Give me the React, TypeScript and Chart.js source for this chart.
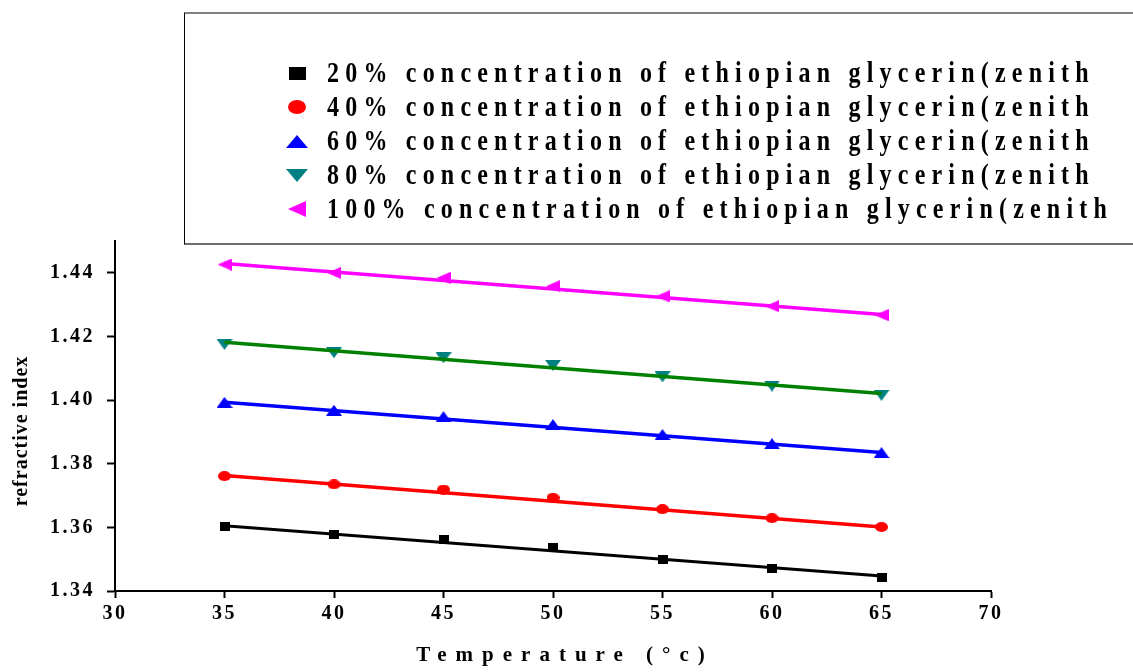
import React, { useEffect, useMemo, useRef } from 'react';
import { Chart, registerables } from 'chart.js';

Chart.register(...registerables);

// ---------- data ----------
const temperatures = [35, 40, 45, 50, 55, 60, 65];

const ri20 = [1.3604, 1.3578, 1.3562, 1.3536, 1.35, 1.3471, 1.3444];
const ri40 = [1.3761, 1.3735, 1.3719, 1.3693, 1.3657, 1.3629, 1.3601];
const ri60 = [1.3993, 1.3968, 1.3948, 1.3923, 1.3892, 1.3863, 1.3835];
const ri80 = [1.4175, 1.4149, 1.4133, 1.4109, 1.4073, 1.4044, 1.4015];
const ri100 = [1.4426, 1.44, 1.4384, 1.4358, 1.4326, 1.4295, 1.4267];

// straight fitted lines, end points read at 35 and 65 °c
const fitTemps = [35, 65];
const fit20 = [1.3605, 1.3447];
const fit40 = [1.3763, 1.3601];
const fit60 = [1.3993, 1.3835];
const fit80 = [1.4182, 1.4021];
const fit100 = [1.4429, 1.4269];

const xTickValues = [30, 35, 40, 45, 50, 55, 60, 65, 70];
const yTickValues = [1.34, 1.36, 1.38, 1.4, 1.42, 1.44];

const seriesLabels = [
  '20% concentration of ethiopian glycerin(zenith',
  '40% concentration of ethiopian glycerin(zenith',
  '60% concentration of ethiopian glycerin(zenith',
  '80% concentration of ethiopian glycerin(zenith',
  '100% concentration of ethiopian glycerin(zenith',
];
const seriesValues = [ri20, ri40, ri60, ri80, ri100];
const fitValues = [fit20, fit40, fit60, fit80, fit100];

const markerColors = ['#000000', '#FF0000', '#0000FF', '#008080', '#FF00FF'];
const lineColors = ['#000000', '#FF0000', '#0000FF', '#008000', '#FF00FF'];
const markerShapes = ['square', 'circle', 'up', 'down', 'left'];
const lineWidths = [3, 3.5, 3.5, 3.5, 3.5];

const plotMarkerSizes: [number, number][] = [[10, 9], [13, 10], [16, 11], [16, 11], [14, 12]];
const legendMarkerSizes: [number, number][] = [[17, 13], [18, 14], [22, 13], [22, 13], [18, 16]];

const FONT = "'Liberation Serif', 'Times New Roman', serif";

function makeMarker(shape: string, color: string, w: number, h: number): HTMLCanvasElement {
  const c = document.createElement('canvas');
  c.width = w;
  c.height = h;
  const g = c.getContext('2d')!;
  g.fillStyle = color;
  g.beginPath();
  if (shape === 'square') {
    g.rect(0, 0, w, h);
  } else if (shape === 'circle') {
    g.ellipse(w / 2, h / 2, w / 2, h / 2, 0, 0, Math.PI * 2);
  } else if (shape === 'up') {
    g.moveTo(w / 2, 0);
    g.lineTo(w, h);
    g.lineTo(0, h);
    g.closePath();
  } else if (shape === 'down') {
    g.moveTo(0, 0);
    g.lineTo(w, 0);
    g.lineTo(w / 2, h);
    g.closePath();
  } else {
    g.moveTo(0, h / 2);
    g.lineTo(w, 0);
    g.lineTo(w, h);
    g.closePath();
  }
  g.fill();
  return c;
}

const titleStyle: Record<string, { spacing: string; dx: number; dy: number }> = {
  x: { spacing: '9px', dx: 12, dy: 0 },
  y: { spacing: '1px', dx: 0, dy: 15 },
};

const TICK_SPACING = '2.5px';

const axisTextPlugin = {
  id: 'axisText',
  beforeUpdate(chart: any) {
    chart.ctx.letterSpacing = TICK_SPACING;
  },
  beforeDraw(chart: any) {
    chart.ctx.letterSpacing = TICK_SPACING;
    for (const id of Object.keys(titleStyle)) {
      const s = chart.scales[id];
      if (!s || s.__wrapped) continue;
      const orig = s.drawTitle;
      s.drawTitle = function (...args: any[]) {
        const ctx = chart.ctx;
        ctx.save();
        ctx.letterSpacing = titleStyle[id].spacing;
        ctx.translate(titleStyle[id].dx, titleStyle[id].dy);
        orig.apply(this, args);
        ctx.restore();
      };
      s.__wrapped = true;
    }
  },
};

const legendRowY = [73, 107, 141, 175, 209];

export default function App() {
  const canvasRef = useRef<HTMLCanvasElement | null>(null);

  const legendImgs = useMemo(
    () =>
      markerShapes.map((s, i) =>
        makeMarker(s, markerColors[i], legendMarkerSizes[i][0], legendMarkerSizes[i][1]).toDataURL()
      ),
    []
  );

  useEffect(() => {
    if (!canvasRef.current) return;

    const fitSets = fitValues.map((vals, i) => ({
      label: 'fit ' + seriesLabels[i],
      data: fitTemps.map((x, j) => ({ x, y: vals[j] })),
      borderColor: lineColors[i],
      backgroundColor: lineColors[i],
      borderWidth: lineWidths[i],
      pointRadius: 0,
      fill: false,
      tension: 0,
      order: 0,
    }));

    const markerSets = seriesValues.map((vals, i) => ({
      label: seriesLabels[i],
      data: temperatures.map((x, j) => ({ x, y: vals[j] })),
      showLine: false,
      pointStyle: makeMarker(markerShapes[i], markerColors[i], plotMarkerSizes[i][0], plotMarkerSizes[i][1]),
      pointRadius: 6,
      borderColor: markerColors[i],
      backgroundColor: markerColors[i],
      order: 1,
    }));

    const tickFont = { family: FONT, size: 20, weight: 'bold' as const };

    const chart = new Chart(canvasRef.current, {
      type: 'line',
      data: { datasets: [...fitSets, ...markerSets] as any },
      options: {
        responsive: false,
        animation: false,
        layout: { padding: { left: 0, right: 142, top: 241, bottom: 0 } },
        plugins: { legend: { display: false }, tooltip: { enabled: false } },
        scales: {
          x: {
            type: 'linear',
            min: 30,
            max: 70,
            afterBuildTicks: (scale: any) => {
              scale.ticks = xTickValues.map((v) => ({ value: v }));
            },
            afterFit: (scale: any) => {
              scale.height = 81;
            },
            ticks: {
              color: '#000',
              font: tickFont,
              padding: 4,
              maxRotation: 0,
              autoSkip: false,
              callback: (v: any) => String(v),
            },
            grid: {
              display: true,
              drawOnChartArea: false,
              drawTicks: true,
              tickLength: 7,
              tickWidth: 2,
              tickColor: '#000',
            },
            border: { display: true, color: '#000', width: 2 },
            title: {
              display: true,
              text: 'Temperature (°c)',
              color: '#000',
              font: { family: FONT, size: 21, weight: 'bold', lineHeight: 1 },
              padding: { top: 0, bottom: 6 },
            },
          },
          y: {
            type: 'linear',
            min: 1.34,
            max: 1.45,
            afterBuildTicks: (scale: any) => {
              scale.ticks = yTickValues.map((v) => ({ value: v }));
            },
            afterFit: (scale: any) => {
              scale.width = 115;
            },
            ticks: {
              color: '#000',
              font: tickFont,
              padding: 12,
              autoSkip: false,
              callback: (v: any) => Number(v).toFixed(2),
            },
            grid: {
              display: true,
              drawOnChartArea: false,
              drawTicks: true,
              tickLength: 8,
              tickWidth: 2,
              tickColor: '#000',
            },
            border: { display: true, color: '#000', width: 2 },
            title: {
              display: true,
              text: 'refractive index',
              color: '#000',
              font: { family: FONT, size: 20, weight: 'bold' },
              padding: { top: 10, bottom: 0 },
            },
          },
        },
      },
      plugins: [axisTextPlugin as any],
    });

    return () => {
      chart.destroy();
    };
  }, []);

  return (
    <div
      style={{
        position: 'absolute',
        left: 0,
        top: 0,
        width: 1133,
        height: 672,
        overflow: 'hidden',
        background: '#ffffff',
      }}
    >
      <canvas ref={canvasRef} width={1133} height={672} style={{ display: 'block', width: 1133, height: 672 }} />
      <div
        style={{
          position: 'absolute',
          left: 184,
          top: 12,
          width: 1000,
          height: 233,
          boxSizing: 'border-box',
          borderTop: '2px solid #808080',
          borderLeft: '1px solid #000000',
          borderBottom: '2px solid #6e6e6e',
        }}
      />
      {seriesLabels.map((label, i) => (
        <React.Fragment key={label}>
          <img
            src={legendImgs[i]}
            alt=""
            style={{
              position: 'absolute',
              left: 297 - legendMarkerSizes[i][0] / 2,
              top: legendRowY[i] - legendMarkerSizes[i][1] / 2,
              width: legendMarkerSizes[i][0],
              height: legendMarkerSizes[i][1],
            }}
          />
          <div
            style={{
              position: 'absolute',
              left: 327,
              top: legendRowY[i] - 18.5,
              height: 34,
              lineHeight: '34px',
              fontFamily: FONT,
              fontWeight: 'bold',
              fontSize: 24,
              letterSpacing: '6.2px',
              whiteSpace: 'nowrap',
              color: '#000',
              transform: 'scaleY(1.2)',
              transformOrigin: 'center',
            }}
          >
            {label}
          </div>
        </React.Fragment>
      ))}
    </div>
  );
}
